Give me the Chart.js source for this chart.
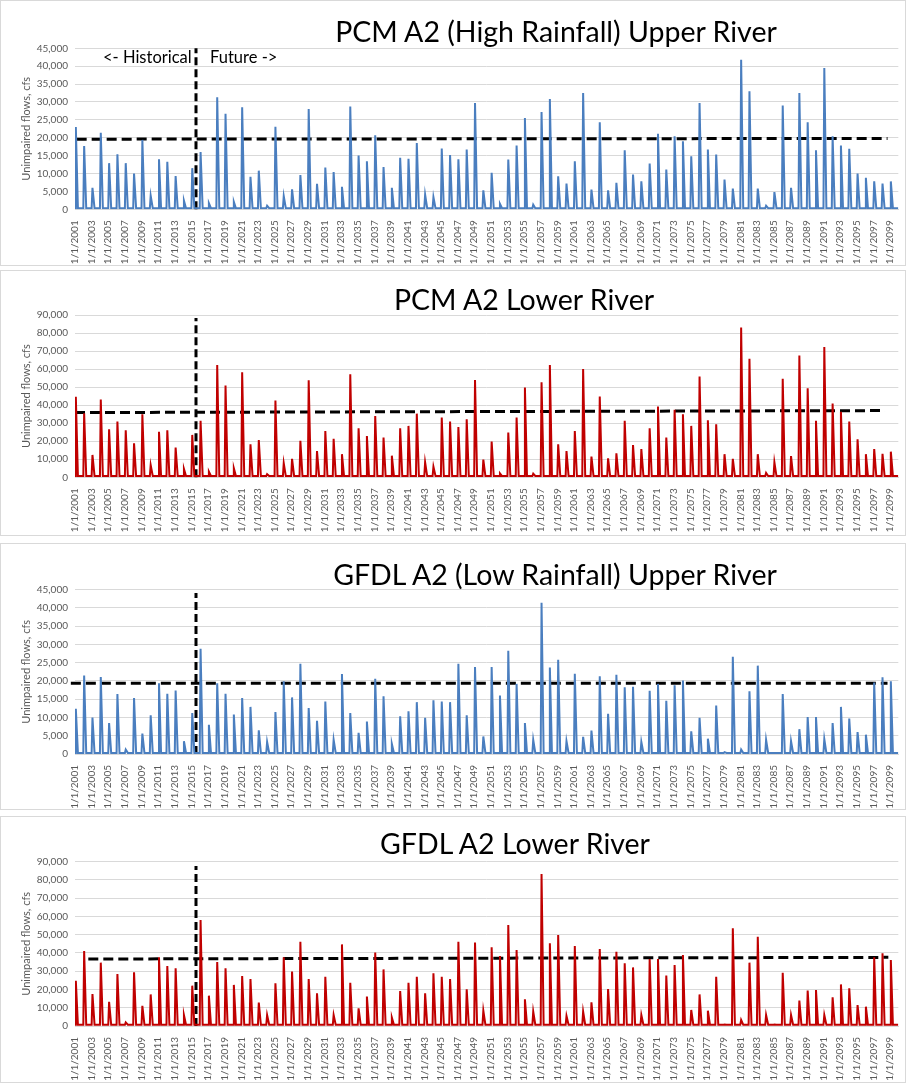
<!DOCTYPE html>
<html>
<head>
<meta charset="utf-8">
<script src="https://cdn.jsdelivr.net/npm/chart.js@4.4.0/dist/chart.umd.min.js"></script>
<style>
body{margin:0;background:#fff;font-family:Lato, sans-serif;}
.panel{position:absolute;left:0;width:904px;border:1px solid #d9d9d9;background:#fff;}
.panel canvas{position:absolute;left:0;top:0;}
.title{position:absolute;font-size:28.5px;line-height:32px;color:#000;white-space:nowrap;transform:translateX(-50%);}
.note{position:absolute;font-size:16.5px;line-height:20px;color:#000;white-space:nowrap;}
</style>
</head>
<body>
<div class="panel" id="p1" style="top:0;height:264px"><canvas id="c1" width="904" height="264"></canvas></div>
<div class="panel" id="p2" style="top:270px;height:264px"><canvas id="c2" width="904" height="264"></canvas></div>
<div class="panel" id="p3" style="top:543px;height:265px"><canvas id="c3" width="904" height="265"></canvas></div>
<div class="panel" id="p4" style="top:816px;height:265px"><canvas id="c4" width="904" height="265"></canvas></div>

<div class="title" style="left:556px;top:15px">PCM A2 (High Rainfall) Upper River</div>
<div class="title" style="left:524px;top:283px">PCM A2 Lower River</div>
<div class="title" style="left:555px;top:558px">GFDL A2 (Low Rainfall) Upper River</div>
<div class="title" style="left:515px;top:827px">GFDL A2 Lower River</div>
<div class="note" style="left:103px;top:47px">&lt;- Historical</div>
<div class="note" style="left:210px;top:47px">Future -&gt;</div>

<script>
// first year of the monthly record, one spike per water year
const firstYear = 2001

const tickYears = [2001,2003,2005,2007,2009,2011,2013,2015,2017,2019,2021,2023,2025,2027,2029,2031,2033,2035,2037,2039,
  2041,2043,2045,2047,2049,2051,2053,2055,2057,2059,2061,2063,2065,2067,2069,2071,2073,2075,2077,2079,
  2081,2083,2085,2087,2089,2091,2093,2095,2097,2099]

// annual peak flows (cfs), 2001..2099
const pcmUpperPeaks = [23000,17700,6000,21400,12900,15400,12900,10000,19400,3800,
  14000,13300,9300,2400,11500,16000,1700,31300,26700,2100,
  28500,9100,10800,1000,23100,3700,5600,9600,28000,7100,
  11700,10400,6300,28700,15000,13400,20700,11800,6000,14400,
  14100,18500,4100,3400,17000,15200,14000,16700,29700,5300,
  10200,1500,13900,17800,25500,1300,27200,30800,9200,7200,
  13400,32500,5500,24300,5300,7400,16500,9700,7800,12800,
  21100,11100,20400,19000,14800,29700,16700,15300,8300,5800,
  41800,33000,5800,1000,4800,29000,6000,32500,24300,16500,
  39500,20400,17800,16900,10000,8800,7800,7200,7800]

const pcmLowerPeaks = [44600,35500,12400,43100,26600,30900,26100,18900,35000,6800,
  25300,26100,16500,4600,23500,31300,3100,62300,50900,5000,
  58300,18300,20700,1700,42600,7800,10200,20200,53800,14600,
  25700,21300,12800,57200,27200,22900,34000,22000,12000,27200,
  28500,35300,8300,5900,33100,30900,27900,32200,54000,9800,
  19800,2200,24800,33100,49800,2000,52700,62300,18300,14600,
  25700,60100,11500,44800,10500,13300,31300,17900,15700,27200,
  39200,22000,37400,35000,28500,55900,31600,29400,12800,10200,
  83100,65700,12800,2400,8300,54600,11800,67500,49400,31300,
  72300,40900,36400,30900,21100,12800,15700,13000,14200]

const gfdlUpperPeaks = [12400,21500,10000,21100,8500,16400,1200,15300,5600,10600,
  19400,16500,17400,3500,11200,28800,8000,19400,16500,10800,
  15300,12900,6500,3300,11500,19900,15500,24700,12600,9100,
  14400,3900,21900,11200,5800,8900,20600,15800,2800,10300,
  11700,14200,9900,14700,14400,14200,24700,10600,23800,4800,
  23800,16000,28300,19200,8500,3900,41400,23700,25800,3500,
  22000,4700,6400,21300,11000,21700,18300,18400,3300,17300,
  19200,14600,18800,20100,6200,9900,4200,13300,500,26600,
  1200,17200,24200,3900,300,16400,3500,6800,10100,10100,
  4100,8500,12900,9700,6000,5300,19600,21000,19900]

const gfdlLowerPeaks = [24800,41100,17500,34700,13300,28500,2000,29400,11100,17300,
  37600,32900,31600,6000,22100,58100,16600,35100,31600,22500,
  27400,25700,12800,6000,23400,37600,29800,46200,25700,17900,
  27000,6000,44700,23700,9700,16100,40200,31000,4600,19200,
  23700,27000,17900,28900,27000,25700,46200,20100,45700,8400,
  43100,38300,55300,41600,14600,7900,83300,45300,49900,5500,
  43800,7900,13000,42200,20300,40700,34300,32100,6000,36700,
  36700,27600,33400,38900,8800,17300,8400,27000,800,53500,
  3300,34700,48900,6000,800,29200,6000,13900,19400,19700,
  6000,15700,22800,20600,11500,10600,37600,39800,36200]

// low flow between the spikes
const upperBase = 300
const lowerBase = 700

// dashed reference lines: [startYear, endYear], [startValue, endValue]
const pcmUpperRef = [[2001.2, 2098.7], [19600, 19800]]
const pcmLowerRef = [[2001.0, 2098.4], [35900, 37000]]
const gfdlUpperRef = [[2000.5, 2098.7], [19400, 19400]]
const gfdlLowerRef = [[2002.6, 2098.8], [36700, 37600]]

// historical / future split
const splitYear = 2015.55

function spikeSeries(peaks, base) {
  const pts = []
  peaks.forEach((p, i) => {
    const y = firstYear + i
    pts.push({x: y, y: base})
    pts.push({x: y + 0.1, y: p})
    pts.push({x: y + 0.35, y: base})
  })
  pts.push({x: firstYear + peaks.length, y: base})
  return pts
}

function makePanel(id, peaks, base, color, yMax, yStep, ref, splitTop, top, axisH) {
  const ctx = document.getElementById(id)
  return new Chart(ctx, {
    type: 'line',
    data: {
      datasets: [
        {
          data: spikeSeries(peaks, base),
          borderColor: color,
          borderWidth: 2,
          pointRadius: 0,
          tension: 0
        },
        {
          data: [{x: ref[0][0], y: ref[1][0]}, {x: ref[0][1], y: ref[1][1]}],
          borderColor: '#000',
          borderWidth: 3,
          borderDash: [10, 5],
          pointRadius: 0,
          clip: false
        },
        {
          data: [{x: splitYear, y: 0}, {x: splitYear, y: splitTop}],
          borderColor: '#000',
          borderWidth: 3,
          borderDash: [8, 4],
          pointRadius: 0,
          clip: false
        }
      ]
    },
    options: {
      responsive: false,
      animation: false,
      events: [],
      layout: {padding: {top: top, left: 0, right: 0, bottom: 0}},
      plugins: {legend: {display: false}, tooltip: {enabled: false}},
      scales: {
        x: {
          type: 'linear',
          min: 2001,
          max: 2100,
          afterBuildTicks: (scale) => { scale.ticks = tickYears.map(v => ({value: v})) },
          afterFit: (scale) => { scale.height = axisH },
          grid: {display: false},
          border: {color: '#d9d9d9'},
          ticks: {
            autoSkip: false,
            minRotation: 90,
            maxRotation: 90,
            padding: 3,
            color: '#595959',
            font: {family: 'Lato', size: 10},
            callback: (v) => '1/1/' + v
          }
        },
        y: {
          min: 0,
          max: yMax,
          afterFit: (scale) => { scale.width = 74 },
          grid: {color: '#d9d9d9', drawTicks: false},
          border: {display: false},
          ticks: {
            stepSize: yStep,
            padding: 7,
            color: '#595959',
            font: {family: 'Lato', size: 10},
            callback: (v) => v.toLocaleString('en-US')
          },
          title: {
            display: true,
            text: 'Unimpaired flows, cfs',
            color: '#595959',
            font: {family: 'Lato', size: 11},
            padding: {top: 19, bottom: 0}
          }
        }
      }
    }
  })
}

makePanel('c1', pcmUpperPeaks, upperBase, '#4a7ebf', 45000, 5000, pcmUpperRef, 45000, 47.3, 55.7)
makePanel('c2', pcmLowerPeaks, lowerBase, '#c00000', 90000, 10000, pcmLowerRef, 88300, 44, 57.7)
makePanel('c3', gfdlUpperPeaks, upperBase, '#4a7ebf', 45000, 5000, gfdlUpperRef, 44100, 45.7, 55)
makePanel('c4', gfdlLowerPeaks, lowerBase, '#c00000', 90000, 10000, gfdlLowerRef, 87600, 44.7, 56)
</script>
</body>
</html>
